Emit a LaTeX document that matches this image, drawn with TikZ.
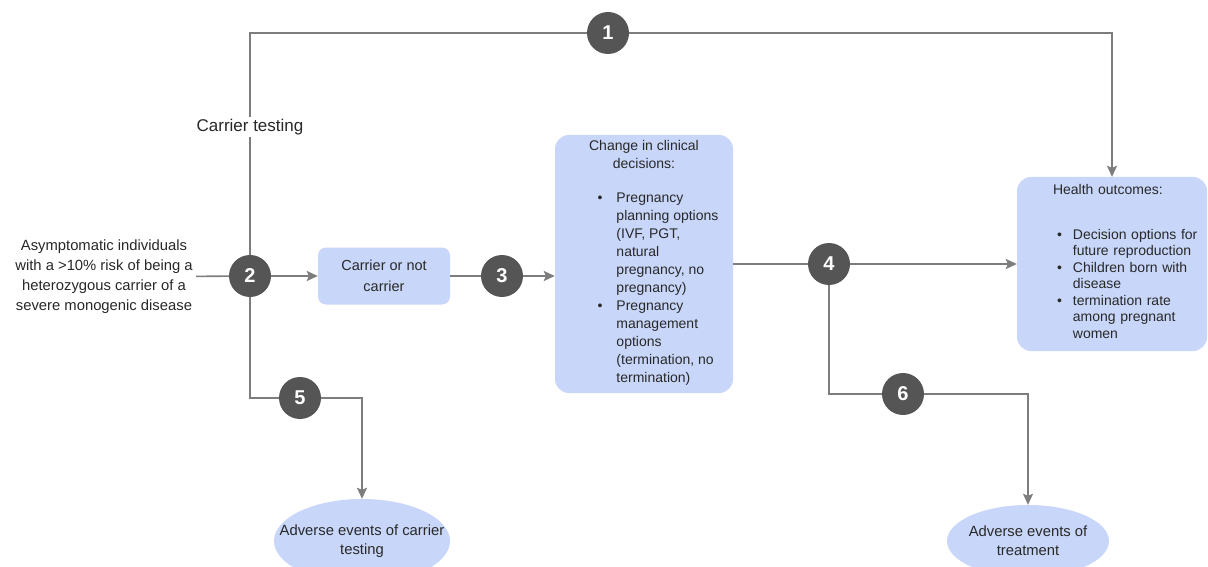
\documentclass[tikz,border=0pt]{standalone}
\usepackage{fontspec}
\setmainfont{Liberation Sans}
\usepackage{tikz}
\usetikzlibrary{arrows.meta,shapes.geometric}
\definecolor{boxblue}{RGB}{200,215,249}
\definecolor{numgray}{RGB}{85,85,85}
\definecolor{linegray}{RGB}{125,125,125}
\definecolor{txtgray}{RGB}{40,40,40}
\tikzset{
  infobox/.style   = {shape=rectangle, rounded corners=14pt,
                      fill=boxblue, text=txtgray,
                      anchor=center, inner sep=3pt},
  eventoval/.style = {shape=ellipse, fill=boxblue, inner sep=0pt},
  evtext/.style    = {align=center, text=txtgray, font=\fontsize{14.8}{19}\selectfont},
  stepnum/.style   = {shape=circle, fill=numgray, text=white,
                      minimum size=42pt, inner sep=0pt,
                      font=\bfseries\fontsize{20}{20}\selectfont},
  flowline/.style  = {draw=linegray, line width=1.6pt},
  flowarrow/.style = {flowline, -{Stealth[length=11pt,width=10pt,inset=2pt]}},
}

\begin{document}
\begin{tikzpicture}[x=1pt, y=-1pt, font=\fontsize{14}{18}\selectfont]
  \useasboundingbox[fill=white] (0,0) rectangle (1208,567);

  % population and boxes
  \node[align=center, text=txtgray, font=\fontsize{14.8}{20}\selectfont] (pop) at (104,277)
    {Asymptomatic individuals\\ with a >10\% risk of being a\\
     heterozygous carrier of a\\ severe monogenic disease};
  \node[infobox, minimum width=132pt, minimum height=57pt, rounded corners=8pt,
        align=center, font=\fontsize{14.5}{21}\selectfont] (carrier) at (384,276)
    {Carrier or not\\ carrier};
  \node[infobox, minimum width=178pt, minimum height=258pt, align=center] (chg) at (644,264)
    {Change in clinical\\ decisions:\\[16pt]
     \hspace*{28pt}\begin{tabular}[t]{@{}l@{\hspace{14pt}}l@{}}
       \textbullet & Pregnancy\\
                   & planning options\\
                   & (IVF, PGT,\\
                   & natural\\
                   & pregnancy, no\\
                   & pregnancy)\\
       \textbullet & Pregnancy\\
                   & management\\
                   & options\\
                   & (termination, no\\
                   & termination)
     \end{tabular}};
  \node[infobox, minimum height=174pt, text width=184pt, align=left,
        font=\fontsize{14}{16.5}\selectfont] (health) at (1112,264)
    {\hspace*{33pt}Health outcomes:\\[28pt]
     \hspace*{37pt}\begin{tabular}[t]{@{}l@{\hspace{11pt}}l@{}}
       \textbullet & Decision options for\\
                   & future reproduction\\
       \textbullet & Children born with\\
                   & disease\\
       \textbullet & termination rate\\
                   & among pregnant\\
                   & women
     \end{tabular}};
  \node[eventoval, minimum width=176pt, minimum height=84pt,
        label={[evtext]center:Adverse events of carrier\\ testing}] (ell5) at (362,541) {};
  \node[eventoval, minimum width=162pt, minimum height=72pt,
        label={[evtext]center:Adverse events of\\ treatment}] (ell6) at (1028,541) {};

  % numbered steps
  \node[stepnum] (c1) at (608,33)  {1};
  \node[stepnum] (c2) at (250,276) {2};
  \node[stepnum] (c3) at (502,276) {3};
  \node[stepnum] (c4) at (829,264) {4};
  \node[stepnum] (c5) at (300,398) {5};
  \node[stepnum] (c6) at (903,394) {6};

  % connectors
  \draw[flowline]  (c2) |- node[pos=0.288, fill=white, text=txtgray, inner sep=2pt,
                                font=\fontsize{17}{20}\selectfont] (lbltest) {Carrier testing} (c1);
  \draw[flowarrow] (c1) -| (health);
  \draw[flowline]  (pop) -- (c2);
  \draw[flowarrow] (c2) -- (carrier);
  \draw[flowline]  (carrier) -- (c3);
  \draw[flowarrow] (c3) -- (c3 -| chg.west);
  \draw[flowline]  (chg) -- (c4);
  \draw[flowarrow] (c4) -- (health);
  \draw[flowline]  (c2) |- (c5);
  \draw[flowarrow] (c5) -| (ell5);
  \draw[flowline]  (c4) |- (c6);
  \draw[flowarrow] (c6) -| (ell6);
\end{tikzpicture}
\end{document}
